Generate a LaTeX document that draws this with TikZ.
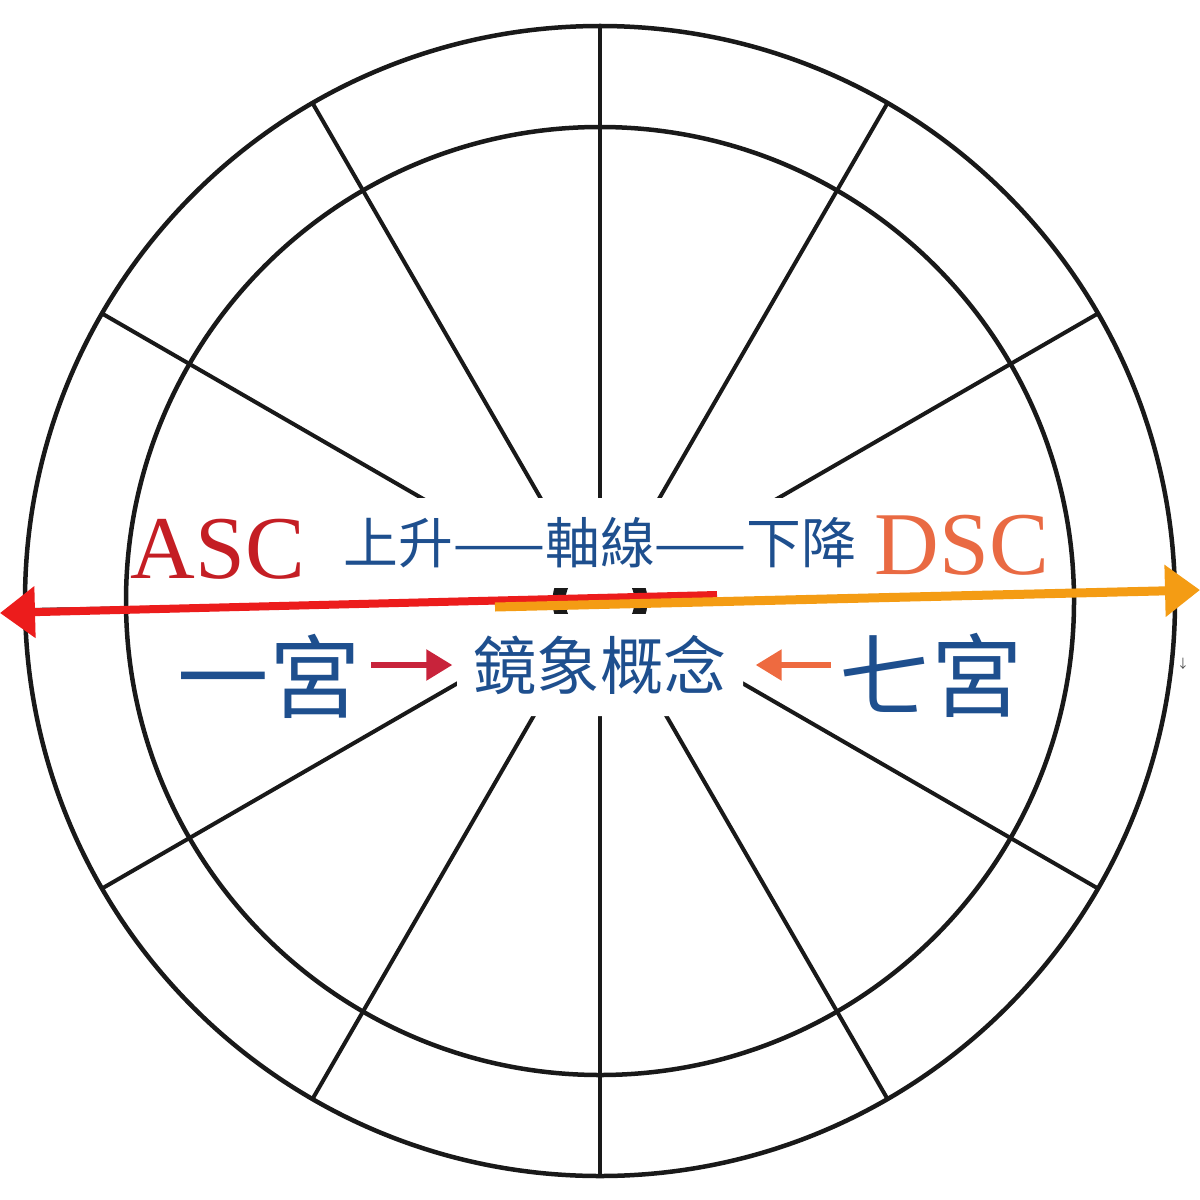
\documentclass[tikz,border=0pt]{standalone}
\usepackage{fontspec}
\setmainfont{Liberation Serif}
\newfontfamily\cjk{Noto Sans CJK TC}
\usetikzlibrary{arrows.meta}
\definecolor{ascred}{HTML}{C41E24}
\definecolor{dscorange}{HTML}{E96A43}
\definecolor{houseblue}{HTML}{1E4F8E}
\definecolor{axisred}{HTML}{EC1C1C}
\definecolor{axisorange}{HTML}{F49C14}
\definecolor{pointred}{HTML}{C8233B}
\definecolor{pointorange}{HTML}{EE6A40}
\begin{document}
\begin{tikzpicture}[x=0.1mm,y=-0.1mm,
    ring/.style={line width=0.45mm,black!90},
    spoke/.style={line width=0.4mm,black!90},
    axis/.style={line width=0.8mm,-{Triangle[length=3.5mm,width=5mm]}},
    pointer/.style={line width=0.55mm,-{Triangle[length=2.6mm,width=3mm]}},
    house/.style={font=\cjk\fontsize{26pt}{26pt}\selectfont,text=houseblue,inner sep=0pt}]
\useasboundingbox (0,0) rectangle (1200,1200);
\fill[white] (0,0) rectangle (1200,1200);

\draw[ring] (600,601) circle[radius=575];
\draw[ring] (600,601) circle[radius=474];
\foreach \a in {30,60,...,150,210,240,...,330}
    \draw[spoke,shift={(600,601)}] (\a:41) -- (\a:575);
\draw[spoke] (559,601) -- (27,610);
\draw[spoke] (641,601) -- (1173,592);
\draw[line width=1.3mm,black!90] (600,601) circle[radius=41];

\node[fill=white,minimum width=54mm,minimum height=9mm,text=houseblue,
    font=\cjk\fontsize{15.6pt}{15.6pt}\selectfont] (axisname) at (600,543) {上升——軸線——下降};
\node[fill=white,rounded corners=1.5mm,minimum width=28.6mm,minimum height=10.2mm,inner sep=0pt,
    text=houseblue,font=\cjk\fontsize{18pt}{18pt}\selectfont] (mirror) at (600,665) {鏡象概念};

\coordinate (ascstart) at (717,595);
\coordinate (asctip) at (0,613);
\coordinate (dscstart) at (495,607);
\coordinate (dsctip) at (1200,590);
\draw[axis,axisred] (ascstart) -- (asctip);
\draw[axis,axisorange,line width=0.9mm] (dscstart) -- (dsctip);

\node[text=ascred,font=\fontsize{25.5pt}{25.5pt}\selectfont] (asc) at (218,549) {ASC};
\node[text=dscorange,font=\fontsize{25.5pt}{25.5pt}\selectfont] (dsc) at (962,545) {DSC};

\node[house] (yigong) at (269,676) {一宮};
\node[house] (qigong) at (931,675) {七宮};
\draw[pointer,pointred,shorten <=1mm,shorten >=0.4mm] (yigong.east |- mirror.west) -- (mirror.west);
\draw[pointer,pointorange,shorten <=0.8mm,shorten >=1.2mm] (qigong.west |- mirror.east) -- (mirror.east);

\node[text=black!70,font=\cjk\fontsize{3.5pt}{3.5pt}\selectfont] (mark) at (1183,664) {↓};
\end{tikzpicture}
\end{document}
